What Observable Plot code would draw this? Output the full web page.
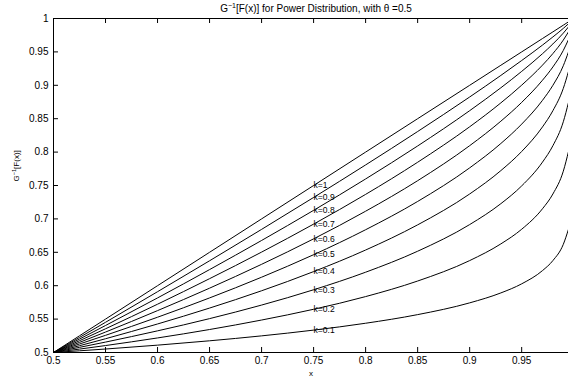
<!DOCTYPE html>
<html><head><meta charset="utf-8">
<script src="https://cdn.jsdelivr.net/npm/d3@7"></script>
<script src="https://cdn.jsdelivr.net/npm/@observablehq/plot@0.6"></script>
<style>body{margin:0;background:#fff} svg{font-family:"Liberation Sans",Arial,sans-serif}</style>
</head><body><div id="chart"></div>
<script>
const xs = [0.5, 0.55, 0.6, 0.65, 0.7, 0.75, 0.8, 0.85, 0.9, 0.93, 0.95, 0.97, 0.98, 0.99, 0.995];
const k01 = [0.5, 0.5052, 0.5110, 0.5175, 0.5249, 0.5335, 0.5438, 0.5567, 0.5743, 0.5892, 0.6028, 0.6226, 0.6376, 0.6619, 0.6845];
const k02 = [0.5, 0.5104, 0.5218, 0.5344, 0.5486, 0.5647, 0.5837, 0.6070, 0.6376, 0.6626, 0.6845, 0.7152, 0.7373, 0.7714, 0.8009];
const k03 = [0.5, 0.5156, 0.5324, 0.5507, 0.5710, 0.5939, 0.6202, 0.6516, 0.6915, 0.7228, 0.7494, 0.7850, 0.8096, 0.8454, 0.8744];
const k04 = [0.5, 0.5206, 0.5427, 0.5665, 0.5924, 0.6211, 0.6534, 0.6911, 0.7373, 0.7723, 0.8009, 0.8377, 0.8620, 0.8954, 0.9208];
const k05 = [0.5, 0.5257, 0.5528, 0.5817, 0.6127, 0.6464, 0.6838, 0.7261, 0.7764, 0.8129, 0.8419, 0.8775, 0.9000, 0.9293, 0.9500];
const k06 = [0.5, 0.5306, 0.5627, 0.5963, 0.6320, 0.6701, 0.7115, 0.7572, 0.8096, 0.8463, 0.8744, 0.9076, 0.9275, 0.9522, 0.9685];
const k07 = [0.5, 0.5355, 0.5723, 0.6105, 0.6503, 0.6922, 0.7367, 0.7848, 0.8379, 0.8737, 0.9002, 0.9302, 0.9475, 0.9677, 0.9801];
const k08 = [0.5, 0.5404, 0.5817, 0.6241, 0.6677, 0.7128, 0.7598, 0.8092, 0.8620, 0.8963, 0.9208, 0.9473, 0.9619, 0.9781, 0.9874];
const k09 = [0.5, 0.5452, 0.5910, 0.6373, 0.6843, 0.7321, 0.7808, 0.8308, 0.8825, 0.9148, 0.9371, 0.9602, 0.9724, 0.9852, 0.9921];
const k10 = [0.5, 0.55, 0.6, 0.65, 0.7, 0.75, 0.8, 0.85, 0.9, 0.93, 0.95, 0.97, 0.98, 0.99, 0.995];
const kValues = [0.1, 0.2, 0.3, 0.4, 0.5, 0.6, 0.7, 0.8, 0.9, 1];
const kLabels = ["k=0.1", "k=0.2", "k=0.3", "k=0.4", "k=0.5", "k=0.6", "k=0.7", "k=0.8", "k=0.9", "k=1"];
const xTicks = [0.5, 0.55, 0.6, 0.65, 0.7, 0.75, 0.8, 0.85, 0.9, 0.95];
const yTicks = [0.5, 0.55, 0.6, 0.65, 0.7, 0.75, 0.8, 0.85, 0.9, 0.95, 1];
const titleRest = "[F(x)] for Power Distribution, with \u03B8 =0.5";
const yLabelRest = "[F(x)]";
const xLabel = "x";

const series = [k01, k02, k03, k04, k05, k06, k07, k08, k09, k10];
const rows = series.flatMap((ys, i) => ys.map((y, j) => ({x: xs[j], y, k: kValues[i]})));
const labelRows = series.map((ys, i) => ({x: xs[5], y: ys[5], label: kLabels[i]}));

const chart = Plot.plot({
  width: 568, height: 379,
  marginLeft: 53, marginRight: 0, marginTop: 18, marginBottom: 27,
  style: {fontFamily: '"Liberation Sans", Arial, sans-serif', fontSize: "10px", background: "#fff", color: "#000", overflow: "visible"},
  x: {domain: [0.5, 0.995], ticks: xTicks, tickSize: 0, tickPadding: 4, tickFormat: d => String(d), label: null},
  y: {domain: [0.5, 1], ticks: yTicks, tickSize: 0, tickPadding: 5, tickFormat: d => String(d), label: null},
  marks: [
    Plot.ruleX(xTicks.slice(1), {x: d => d, y1: 0.5, y2: 0.5075, stroke: "#000"}),
    Plot.ruleX(xTicks.slice(1), {x: d => d, y1: 1, y2: 0.9925, stroke: "#000"}),
    Plot.ruleY(yTicks.slice(1, -1), {y: d => d, x1: 0.5, x2: 0.5048, stroke: "#000"}),
    Plot.line(rows, {x: "x", y: "y", z: "k", stroke: "#000", strokeWidth: 1, curve: "monotone-x"}),
    Plot.ruleY([0.5, 1], {stroke: "#000"}),
    Plot.ruleX([0.5], {stroke: "#000"}),
    Plot.text(labelRows, {x: "x", y: "y", text: "label", textAnchor: "start", fontSize: 8.5}),
    Plot.text(["SUPTITLE"], {frameAnchor: "top", lineAnchor: "middle", dy: -10, dx: 5, fontSize: 10}),
    Plot.text([xLabel], {frameAnchor: "bottom", lineAnchor: "middle", dy: 21, fontSize: 8}),
    Plot.text(["SUPYLABEL"], {frameAnchor: "left", lineAnchor: "middle", rotate: -90, dx: -37, dy: -4, fontSize: 8})
  ]
});

// rebuild the two labels with a real superscript
const NS = "http://www.w3.org/2000/svg";
function supText(el, rest, size) {
  el.textContent = "";
  el.appendChild(document.createTextNode("G"));
  const sup = document.createElementNS(NS, "tspan");
  sup.setAttribute("dy", -0.4 * size);
  sup.setAttribute("font-size", 0.7 * size);
  sup.textContent = "\u22121";
  el.appendChild(sup);
  const r = document.createElementNS(NS, "tspan");
  r.setAttribute("dy", 0.4 * size);
  r.textContent = rest;
  el.appendChild(r);
}
chart.querySelectorAll("text").forEach(t => {
  if (t.textContent === "SUPTITLE") supText(t, titleRest, 10);
  else if (t.textContent === "SUPYLABEL") supText(t, yLabelRest, 8);
});
document.getElementById("chart").appendChild(chart);
</script>
</body></html>
